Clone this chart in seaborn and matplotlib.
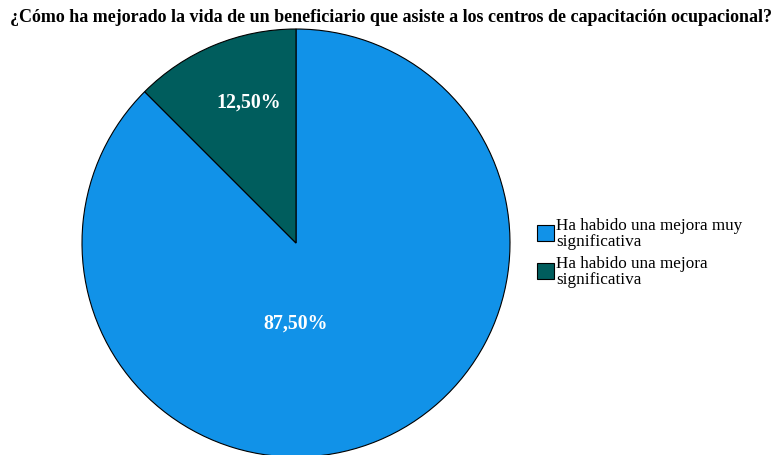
"""
Pie chart: mejora en la vida de beneficiarios de centros de capacitación ocupacional.
"""
import matplotlib
matplotlib.use("Agg")
import matplotlib.pyplot as plt
import seaborn as sns

CATEGORIES = ["Ha habido una mejora muy\nsignificativa",
              "Ha habido una mejora\nsignificativa"]
PERCENTS = [87.5, 12.5]
LABELS = ["87,50%", "12,50%"]
COLORS = ["#1192e8", "#005d5d"]

sns.set_theme(style="white")
plt.rcParams["font.family"] = ["Liberation Serif", "DejaVu Serif"]
plt.rcParams["text.color"] = "black"

fig = plt.figure(figsize=(7.75, 4.56), dpi=100)
W, H = 775, 456
# square axes holding the pie (pixels -> figure fractions)
cx, cy, r = 296, 244, 214
ax = fig.add_axes([(cx - r) / W, (H - cy - r) / H, 2 * r / W, 2 * r / H])

wedges, _ = ax.pie(
    PERCENTS, colors=COLORS, startangle=90, counterclock=False,
    radius=1.0, wedgeprops={"edgecolor": "black", "linewidth": 0.8},
)
ax.set_xlim(-1, 1)
ax.set_ylim(-1, 1)
ax.set_axis_off()

# percentage labels, placed as in the original
label_pos = [(0.0, -0.37), (-0.22, 0.66)]
for txt, (x, y) in zip(LABELS, label_pos):
    ax.text(x, y, txt, ha="center", va="center", color="white",
            fontsize=14.3, fontweight="bold")

fig.text(391 / W, 1 - 18 / H,
         "¿Cómo ha mejorado la vida de un beneficiario que asiste a los centros de capacitación ocupacional?",
         ha="center", va="center", fontsize=13, fontweight="bold")

leg = fig.legend(wedges, CATEGORIES, loc="upper left",
                 bbox_to_anchor=(530 / W, 1 - 211 / H), frameon=False,
                 fontsize=12.3, handlelength=1.0, handleheight=1.0,
                 handletextpad=0.15, labelspacing=0.35, borderaxespad=0)
for t in leg.get_texts():
    t.set_linespacing(1.0)

fig.savefig("out.png", dpi=100)
